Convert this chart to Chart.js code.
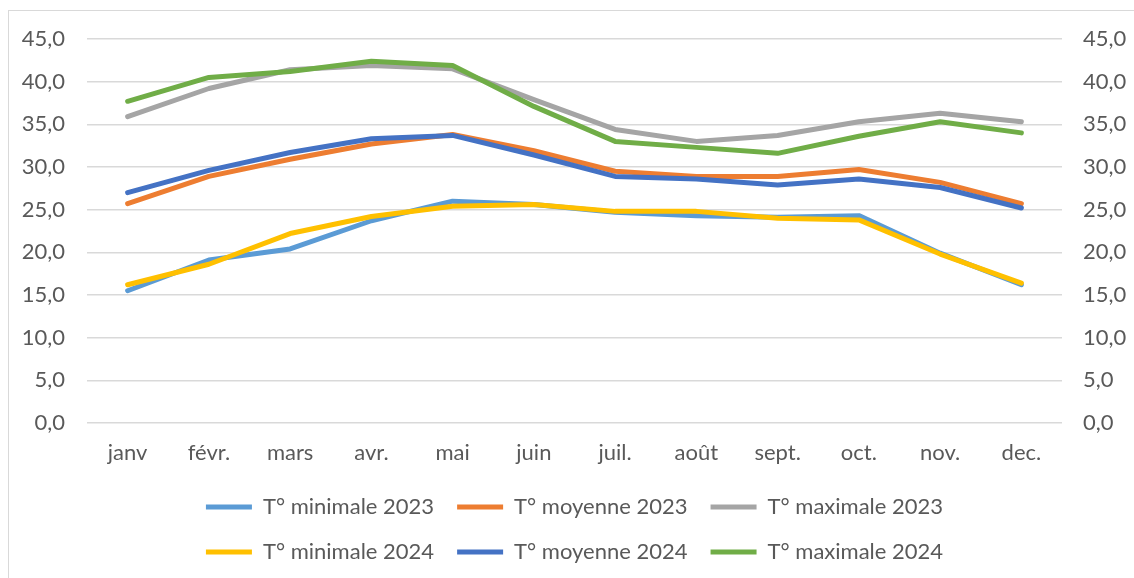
<!DOCTYPE html>
<html>
<head>
<meta charset="utf-8">
<script src="https://cdn.jsdelivr.net/npm/chart.js@4/dist/chart.umd.min.js"></script>
<style>
  body { margin: 0; background: #fff; overflow: hidden; }
  #wrap { position: relative; width: 1134px; height: 578px; }
  #frame {
    position: absolute; left: 8px; top: 10px; width: 1200px; height: 700px;
    border-left: 1px solid #d9d9d9; border-top: 1px solid #d9d9d9;
  }
  canvas { position: absolute; left: 0; top: 0; }
</style>
</head>
<body>
<div id="wrap">
  <div id="frame"></div>
  <canvas id="tempChart" width="1134" height="578"></canvas>
</div>
<script>
const months = ["janv", "févr.", "mars", "avr.", "mai", "juin", "juil.", "août", "sept.", "oct.", "nov.", "dec."];

const min2023 = [15.5, 19.1, 20.4, 23.7, 26.0, 25.6, 24.7, 24.3, 24.1, 24.3, 19.9, 16.2];
const moy2023 = [25.7, 28.9, 30.9, 32.7, 33.8, 31.9, 29.5, 28.9, 28.9, 29.7, 28.2, 25.7];
const max2023 = [35.9, 39.2, 41.4, 41.9, 41.5, 37.9, 34.4, 33.0, 33.7, 35.3, 36.3, 35.3];
const min2024 = [16.2, 18.6, 22.2, 24.2, 25.4, 25.6, 24.8, 24.8, 24.0, 23.8, 19.8, 16.4];
const moy2024 = [27.0, 29.6, 31.7, 33.3, 33.7, 31.4, 28.9, 28.6, 27.9, 28.6, 27.6, 25.2];
const max2024 = [37.7, 40.5, 41.2, 42.4, 41.9, 37.1, 33.0, 32.3, 31.6, 33.6, 35.3, 34.0];

const textColor = "#595959";
const gridColor = "#d9d9d9";
const fontFamily = "Lato, 'Open Sans', sans-serif";

function makeLine(label, data, color, order) {
  return {
    label,
    data,
    borderColor: color,
    backgroundColor: color,
    borderWidth: 5,
    borderCapStyle: "round",
    borderJoinStyle: "round",
    pointRadius: 0,
    tension: 0,
    fill: false,
    order,
  };
}

// 2024 series are drawn over the 2023 ones, like in the original
const datasets = [
  makeLine("T° minimale 2023", min2023, "#5b9bd5", 1),
  makeLine("T° moyenne 2023", moy2023, "#ed7d31", 1),
  makeLine("T° maximale 2023", max2023, "#a5a5a5", 1),
  makeLine("T° minimale 2024", min2024, "#ffc000", 0),
  makeLine("T° moyenne 2024", moy2024, "#4472c4", 0),
  makeLine("T° maximale 2024", max2024, "#70ad47", 0),
];

const yTicks = {
  stepSize: 5,
  color: textColor,
  font: { family: fontFamily, size: 22 },
  callback: (v) => v.toFixed(1).replace(".", ","),
};

new Chart(document.getElementById("tempChart"), {
  type: "line",
  data: { labels: months, datasets },
  options: {
    responsive: false,
    animation: false,
    layout: { padding: { top: 39, bottom: 5, left: 0, right: 0 } },
    plugins: {
      tooltip: { enabled: false },
      legend: {
        position: "bottom",
        fullSize: false,
        labels: {
          usePointStyle: true,
          pointStyle: "line",
          pointStyleWidth: 46,
          padding: 23,
          color: textColor,
          font: { family: fontFamily, size: 22 },
          sort: (a, b) => a.datasetIndex - b.datasetIndex,
        },
      },
    },
    scales: {
      x: {
        offset: true,
        grid: { display: false },
        border: { display: false },
        ticks: { color: textColor, font: { family: fontFamily, size: 22 }, padding: 9, maxRotation: 0 },
        afterFit: (scale) => { scale.height = 50; },
      },
      y: {
        position: "left",
        min: 0,
        max: 45,
        grid: { color: gridColor, lineWidth: 1.5, drawTicks: false },
        border: { display: false },
        ticks: { ...yTicks, padding: 22 },
        afterFit: (scale) => { scale.width = 87; },
      },
      y2: {
        position: "right",
        min: 0,
        max: 45,
        grid: { display: false, drawTicks: false },
        border: { display: false },
        ticks: { ...yTicks, padding: 21 },
        afterFit: (scale) => { scale.width = 72; },
      },
    },
  },
});
</script>
</body>
</html>
